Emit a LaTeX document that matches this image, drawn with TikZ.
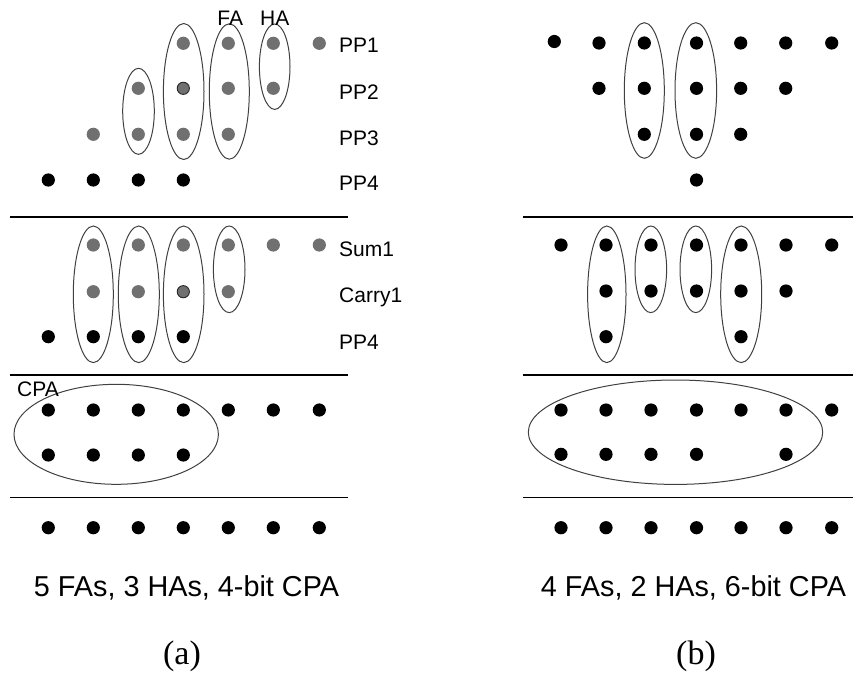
\documentclass[tikz,border=0pt]{standalone}
\usepackage{fontspec}
\setmainfont{Liberation Sans}
\newfontfamily\capserif{Liberation Serif}
\definecolor{dotgrey}{HTML}{707070}
\definecolor{ringgrey}{HTML}{404040}
\begin{document}
\begin{tikzpicture}[x=1pt,y=-1pt,
  bdot/.style={fill=black},
  gdot/.style={fill=dotgrey},
  gdotring/.style={fill=dotgrey,draw=black!85,line width=0.9pt},
  grp/.style={draw=ringgrey,line width=1pt},
  rule/.style={draw=black,line width=1.6pt},
  lbl/.style={font=\fontsize{21}{25}\selectfont,inner sep=0pt},
  sumtxt/.style={font=\fontsize{28.8}{32}\selectfont,inner sep=0pt},
  captxt/.style={font=\capserif\fontsize{34}{38}\selectfont,inner sep=0pt}]
\useasboundingbox (0,0) rectangle (853,678);
\def\r{6.6pt}

% ---------------- (a) ----------------
% partial products
\foreach \x in {183.3,228.3,273.3,319.3} \fill[gdot] (\x,43.3) circle[radius=\r];
\foreach \x in {138.3,228.3,273.3} \fill[gdot] (\x,88.3) circle[radius=\r];
\filldraw[gdotring] (183.3,88.3) circle[radius=6.1pt];
\foreach \x in {93.3,138.3,183.3,228.3} \fill[gdot] (\x,134.3) circle[radius=\r];
\foreach \x in {48.3,93.3,138.3,183.3} \fill[bdot] (\x,180) circle[radius=\r];
\draw[grp] (138.5,111.3) ellipse [x radius=15.8pt, y radius=43pt];
\draw[grp] (183.7,91.5) ellipse [x radius=20.3pt, y radius=68pt];
\draw[grp] (229.3,91.5) ellipse [x radius=20pt, y radius=67.7pt];
\draw[grp] (274.7,66.7) ellipse [x radius=15.3pt, y radius=42.7pt];
\node[lbl,anchor=base] (fa) at (230.3,25) {FA};
\node[lbl,anchor=base] (ha) at (274.7,25) {HA};
\node[lbl,anchor=base west] (pp1) at (339,52.8) {PP1};
\node[lbl,anchor=base west] (pp2) at (339,99) {PP2};
\node[lbl,anchor=base west] (pp3) at (339,145.3) {PP3};
\node[lbl,anchor=base west] (pp4) at (339,190.3) {PP4};
\path[rule] (10,217) -- (348,217);

% first reduction stage
\foreach \x in {93.3,138.3,183.3,228.3,273.3,319.3} \fill[gdot] (\x,245) circle[radius=\r];
\foreach \x in {93.3,138.3,228.3} \fill[gdot] (\x,291.7) circle[radius=\r];
\filldraw[gdotring] (183.3,291.7) circle[radius=6.1pt];
\foreach \x in {48.3,93.3,138.3,183.3} \fill[bdot] (\x,336.7) circle[radius=\r];
\draw[grp] (93.3,294.3) ellipse [x radius=20pt, y radius=68.3pt];
\draw[grp] (138.8,294.3) ellipse [x radius=20.5pt, y radius=68.3pt];
\draw[grp] (183.7,294.3) ellipse [x radius=20.3pt, y radius=68.3pt];
\draw[grp] (229.2,269.3) ellipse [x radius=15.8pt, y radius=43.3pt];
\node[lbl,anchor=base west] (sum1) at (339,256.5) {Sum1};
\node[lbl,anchor=base west] (carry1) at (339,302.8) {Carry1};
\node[lbl,anchor=base west] (pp4b) at (339,349.2) {PP4};
\path[rule] (10,375) -- (348,375);

% carry-propagate adder
\foreach \x in {48.3,93.3,138.3,183.3,228.3,273.3,319.3} \fill[bdot] (\x,410) circle[radius=\r];
\foreach \x in {48.3,93.3,138.3,183.3} \fill[bdot] (\x,455) circle[radius=\r];
\draw[grp] (116.2,434.3) ellipse [x radius=102.2pt, y radius=50pt];
\node[lbl,anchor=base west] (cpa) at (17,396) {CPA};
\path[rule] (10,497.3) -- (348,497.3);
\foreach \x in {48.3,93.3,138.3,183.3,228.3,273.3,319.3} \fill[bdot] (\x,527.7) circle[radius=\r];

\node[sumtxt,anchor=base] (suma) at (186.5,596.7) {5 FAs, 3 HAs, 4-bit CPA};
\node[captxt,anchor=base] (capa) at (182,664) {(a)};

% ---------------- (b) ----------------
\fill[bdot] (554.3,41.5) circle[radius=\r];
\foreach \x in {599,644.3,696.5,740.7,785.7,831.7} \fill[bdot] (\x,43) circle[radius=\r];
\foreach \x in {599,644.3,696.5,740.7,785.7} \fill[bdot] (\x,88.3) circle[radius=\r];
\foreach \x in {644.3,696.5,740.7} \fill[bdot] (\x,134.3) circle[radius=\r];
\fill[bdot] (696.5,180) circle[radius=\r];
\draw[grp] (644.3,90.5) ellipse [x radius=20pt, y radius=67.8pt];
\draw[grp] (695.8,90.5) ellipse [x radius=20.8pt, y radius=67.8pt];
\path[rule] (523,217) -- (853,217);

\foreach \x in {561,606,651,696.5,741,786,831.7} \fill[bdot] (\x,245) circle[radius=\r];
\foreach \x in {606,651,696.5,741,786} \fill[bdot] (\x,291) circle[radius=\r];
\foreach \x in {606,741} \fill[bdot] (\x,336.7) circle[radius=\r];
\draw[grp] (606.8,294.3) ellipse [x radius=19.2pt, y radius=68.3pt];
\draw[grp] (650.8,269.3) ellipse [x radius=15.8pt, y radius=43.3pt];
\draw[grp] (695.8,269.3) ellipse [x radius=15.8pt, y radius=43.3pt];
\draw[grp] (741.2,294.3) ellipse [x radius=20.5pt, y radius=68.3pt];
\path[rule] (523,375) -- (853,375);

\foreach \x in {561,606,651,696.5,741,786,831.7} \fill[bdot] (\x,410) circle[radius=\r];
\foreach \x in {561,606,651,696.5,786} \fill[bdot] (\x,454.3) circle[radius=\r];
\draw[grp] (675.5,432.2) ellipse [x radius=147.2pt, y radius=52.2pt];
\path[rule] (523,497.3) -- (853,497.3);
\foreach \x in {561,606,651,696.5,741,786,831.7} \fill[bdot] (\x,527.7) circle[radius=\r];

\node[sumtxt,anchor=base] (sumb) at (693.5,596.7) {4 FAs, 2 HAs, 6-bit CPA};
\node[captxt,anchor=base] (capb) at (696,664) {(b)};
\end{tikzpicture}
\end{document}
